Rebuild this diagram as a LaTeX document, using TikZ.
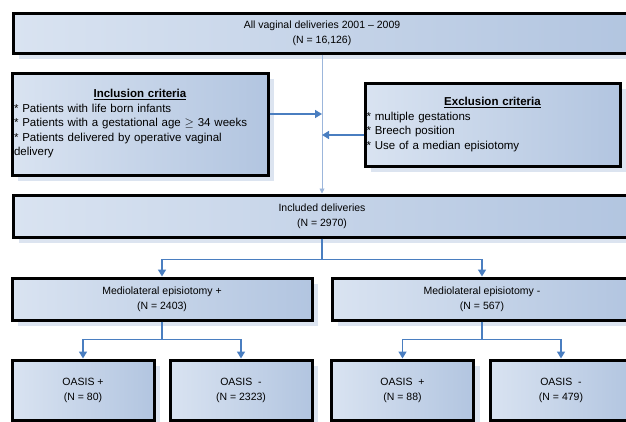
\documentclass[tikz,border=0pt]{standalone}
\usepackage{fontspec}
\setmainfont{Liberation Sans}
\usetikzlibrary{arrows.meta,shadows}
\definecolor{boxl}{HTML}{D9E3F1}
\definecolor{boxr}{HTML}{B2C5E0}
\definecolor{shadowc}{HTML}{DCE4F0}
\definecolor{arrc}{HTML}{4A7EC0}
\definecolor{thinc}{HTML}{9CB6DB}
\tikzset{
  box/.style={draw=black, line width=3pt, left color=boxl, right color=boxr,
    inner sep=0pt, align=center, font=\fontsize{10.5}{15}\selectfont,
    drop shadow={fill=shadowc, opacity=1, shadow xshift=6pt, shadow yshift=-6pt}},
  critbox/.style={box, align=left, font=\fontsize{11.5}{14.5}\selectfont},
  arr/.style={draw=arrc, line width=1.5pt, -{Triangle[width=8pt,length=7pt]}},
  thinarr/.style={draw=thinc, line width=0.9pt, -{Triangle[width=5pt,length=5pt]}}
}
\begin{document}
\begin{tikzpicture}[x=1pt,y=-1pt]
\useasboundingbox (0,0) rectangle (626,421);
% boxes
\node[box, minimum width=618pt, minimum height=40pt] (top) at (322,33)
  {All vaginal deliveries 2001 -- 2009\\(N = 16,126)};
\node[critbox, minimum width=256pt, minimum height=102pt, text width=252pt] (inc) at (140,124)
  {{\centering\underline{\textbf{Inclusion criteria}}\par}
   * Patients with life born infants\\{}%
   * Patients with a gestational age $\geq$ 34 weeks\\{}%
   * Patients delivered by operative vaginal\\{}delivery};
\node[critbox, minimum width=255pt, minimum height=83pt, text width=252pt] (exc) at (492.5,124.5)
  {{\centering\underline{\textbf{Exclusion criteria}}\par}
   * multiple gestations\\{}%
   * Breech position\\{}%
   * Use of a median episiotomy};
\node[box, minimum width=618pt, minimum height=42pt] (incl) at (322,216)
  {Included deliveries\\(N = 2970)};
\node[box, minimum width=300pt, minimum height=42pt] (medp) at (162,299)
  {Mediolateral episiotomy +\\(N = 2403)};
\node[box, minimum width=300pt, minimum height=42pt] (medm) at (482,299)
  {Mediolateral episiotomy -\\(N = 567)};
\node[box, minimum width=142pt, minimum height=60pt] (o1) at (83,390)
  {OASIS +\\(N = 80)};
\node[box, minimum width=142pt, minimum height=60pt] (o2) at (241,390)
  {OASIS \ -\\(N = 2323)};
\node[box, minimum width=142pt, minimum height=60pt] (o3) at (402.5,390)
  {OASIS \ +\\(N = 88)};
\node[box, minimum width=142pt, minimum height=60pt] (o4) at (561,390)
  {OASIS \ -\\(N = 479)};
% connectors
\draw[thinarr] (top.south) -- (incl.north);
\draw[arr] ([yshift=10pt]inc.east) -- ([yshift=10pt]inc.east -| top.south);
\draw[arr] ([yshift=-10.5pt]exc.west) -- ([yshift=-10.5pt]exc.west -| top.south);
\draw[arr] (incl.south) -- ++(0,21) -| (medp.north);
\draw[arr] (incl.south) -- ++(0,21) -| (medm.north);
\draw[arr] (medp.south) -- ++(0,18) -| (o1.north);
\draw[arr] (medp.south) -- ++(0,18) -| (o2.north);
\draw[arr] (medm.south) -- ++(0,18) -| (o3.north);
\draw[arr] (medm.south) -- ++(0,18) -| (o4.north);
\end{tikzpicture}
\end{document}
